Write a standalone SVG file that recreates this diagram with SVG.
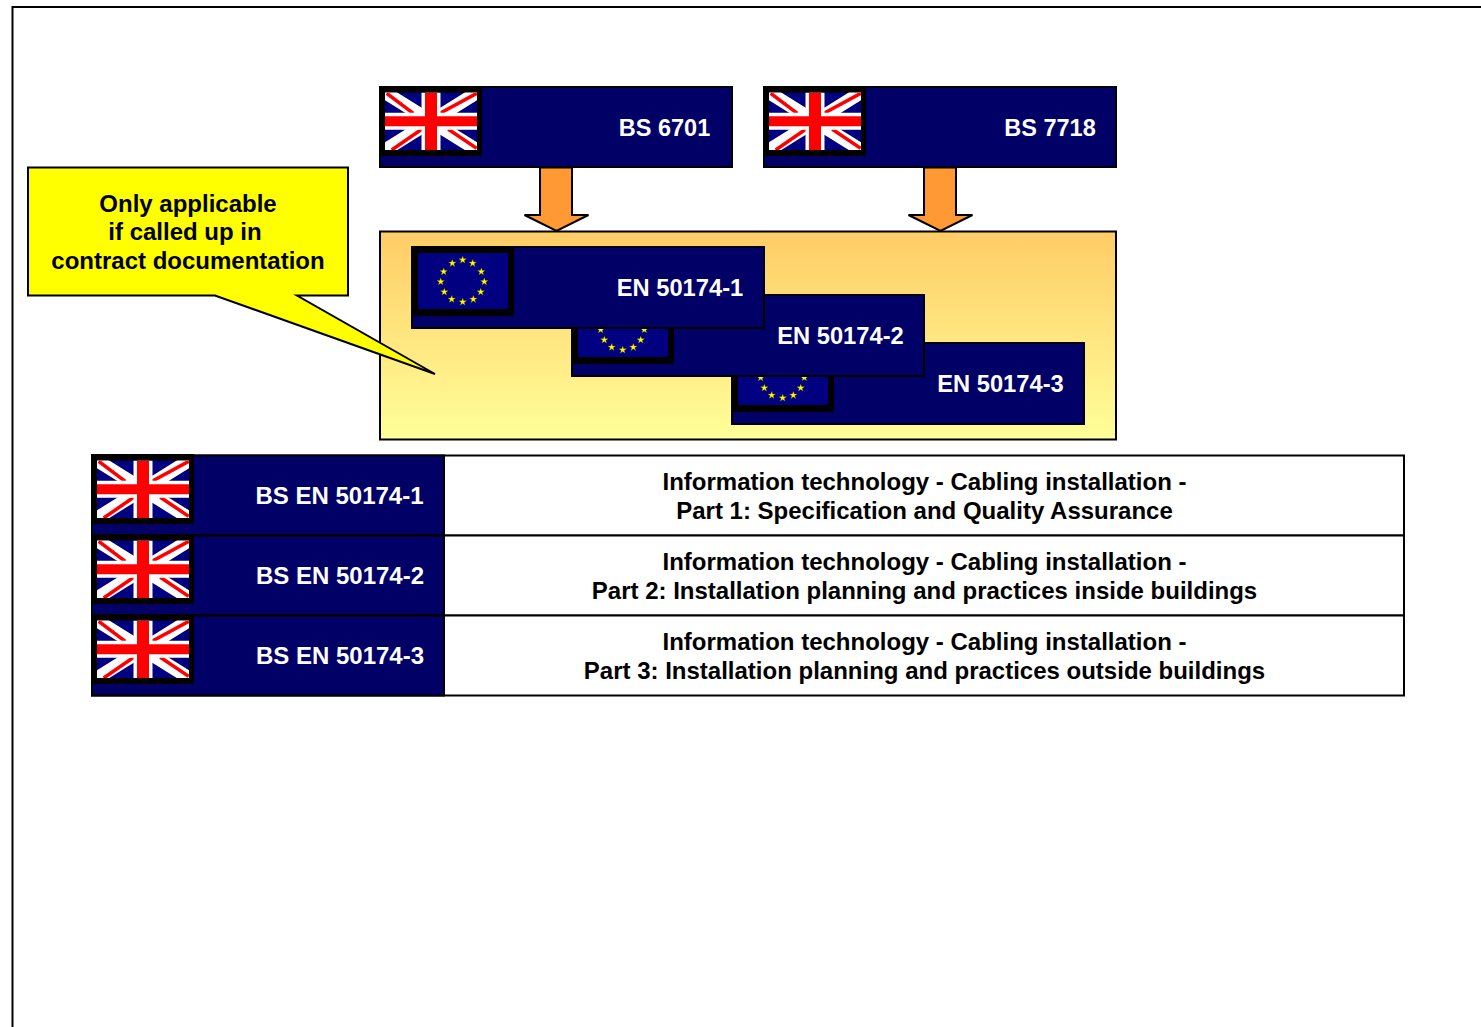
<svg xmlns="http://www.w3.org/2000/svg" xmlns:xlink="http://www.w3.org/1999/xlink" width="1481" height="1027" viewBox="0 0 1481 1027">
<style>
text{font-family:"Liberation Sans",Arial,sans-serif;font-weight:bold;font-size:24px;text-anchor:middle}
.w{fill:#fff}.k{fill:#000}
.s1{font-size:23.5px}.s2{font-size:23.7px}
.navy{fill:#000066;stroke:#000;stroke-width:2}
.arrow{fill:#FF9933;stroke:#000;stroke-width:2;stroke-linejoin:miter}
.cell{fill:#fff;stroke:#000;stroke-width:2}
</style>
<defs>
<linearGradient id="pg" x1="0" y1="0" x2="0" y2="1"><stop offset="0" stop-color="#FFCC66"/><stop offset="1" stop-color="#FFFF99"/></linearGradient>
<clipPath id="ukc"><rect x="6" y="6.500" width="92" height="57.500"/></clipPath>
<polygon id="st" points="0,-3.800 1,-1.200 3.700,-1.200 1.500,0.500 2.300,3.100 0,1.500 -2.300,3.100 -1.500,0.500 -3.700,-1.200 -1,-1.200" fill="#FFFF00" stroke="#807000" stroke-width=".4"/>
<g id="uk">
<rect width="103" height="70" fill="#000"/>
<g clip-path="url(#ukc)">
<rect x="6" y="6.500" width="92" height="57.500" fill="#000080"/>
<path d="M6 6.500L98 64M98 6.500L6 64" stroke="#fff" stroke-width="13"/>
<path d="M7.700 7.300L34.300 27.300M97.700 7.300L61 27.300M12.700 64L42.700 43.300M97.700 62.300L69.300 43.300" stroke="#f00" stroke-width="3.500"/>
<path d="M52 6.500V64" stroke="#fff" stroke-width="19"/>
<path d="M6 35.200H98" stroke="#fff" stroke-width="17"/>
<path d="M52 6.500V64" stroke="#f00" stroke-width="12"/>
<path d="M6 35.200H98" stroke="#f00" stroke-width="10"/>
</g>
</g>
<g id="eu">
<rect width="103" height="70" fill="#000"/>
<rect x="7" y="7" width="90" height="56" fill="#000080"/>
<use xlink:href="#st" x="51.700" y="14"/><use xlink:href="#st" x="61.700" y="17.300"/><use xlink:href="#st" x="70.300" y="25.700"/><use xlink:href="#st" x="73.300" y="35.700"/><use xlink:href="#st" x="69.700" y="46"/><use xlink:href="#st" x="62.300" y="53.300"/><use xlink:href="#st" x="51.700" y="56"/><use xlink:href="#st" x="40.700" y="53.300"/><use xlink:href="#st" x="33.300" y="46"/><use xlink:href="#st" x="29.700" y="35.700"/><use xlink:href="#st" x="32.700" y="25.700"/><use xlink:href="#st" x="41.300" y="17.300"/>
</g>
</defs>
<rect width="1481" height="1027" fill="#fff"/>
<path id="frame" d="M1481 7H12.500V1027" fill="none" stroke="#000" stroke-width="2"/>

<g id="panel"><rect x="380" y="231.500" width="736" height="208" fill="url(#pg)" stroke="#000" stroke-width="2"/></g>

<g id="connectors">
<path class="arrow" d="M540 167.500V215H524.500L556.500 231L588.500 215H572V167.500Z"/>
<path class="arrow" d="M924 167.500V215H908.500L940.500 231L972.500 215H956V167.500Z"/>
</g>

<g id="bs6701"><rect class="navy" x="380" y="87" width="352" height="80"/><use xlink:href="#uk" x="379" y="86"/><text class="w s1" x="664.500" y="136">BS 6701</text></g>
<g id="bs7718"><rect class="navy" x="764" y="87" width="352" height="80"/><use xlink:href="#uk" x="763" y="86"/><text class="w s1" x="1050" y="136">BS 7718</text></g>

<g id="en3"><rect class="navy" x="732" y="343" width="352" height="81"/><use xlink:href="#eu" x="731" y="342"/><text class="w s2" x="1000.500" y="392">EN 50174-3</text></g>
<g id="en2"><rect class="navy" x="572" y="295" width="352" height="81"/><use xlink:href="#eu" x="571" y="294"/><text class="w s2" x="840.500" y="344">EN 50174-2</text></g>
<g id="en1"><rect class="navy" x="412" y="247" width="352" height="81"/><use xlink:href="#eu" x="411" y="246"/><text class="w s2" x="680" y="296">EN 50174-1</text></g>

<g id="callout"><path d="M28 167.500H348V295.500H297L435 374L215 295.500H28Z" fill="#FFFF00" stroke="#000" stroke-width="2"/>
<text class="k" x="188" y="212">Only applicable</text><text class="k" x="185" y="240">if called up in</text><text class="k" x="188" y="269">contract documentation</text></g>

<g id="row1"><rect class="cell" x="92" y="455.500" width="1312" height="80"/><rect class="navy" x="92" y="455.500" width="352" height="80"/><use xlink:href="#uk" x="91" y="454"/><text class="w" x="339.500" y="504">BS EN 50174-1</text>
<text class="k" x="924.500" y="490">Information technology - Cabling installation -</text><text class="k" x="924.500" y="519">Part 1: Specification and Quality Assurance</text></g>
<g id="row2"><rect class="cell" x="92" y="535.500" width="1312" height="80"/><rect class="navy" x="92" y="535.500" width="352" height="80"/><use xlink:href="#uk" x="91" y="534"/><text class="w" x="340" y="584">BS EN 50174-2</text>
<text class="k" x="924.500" y="570">Information technology - Cabling installation -</text><text class="k" x="924.500" y="599">Part 2: Installation planning and practices inside buildings</text></g>
<g id="row3"><rect class="cell" x="92" y="615.500" width="1312" height="80"/><rect class="navy" x="92" y="615.500" width="352" height="80"/><use xlink:href="#uk" x="91" y="614"/><text class="w" x="340" y="664">BS EN 50174-3</text>
<text class="k" x="924.500" y="650">Information technology - Cabling installation -</text><text class="k" x="924.500" y="679">Part 3: Installation planning and practices outside buildings</text></g>
</svg>
